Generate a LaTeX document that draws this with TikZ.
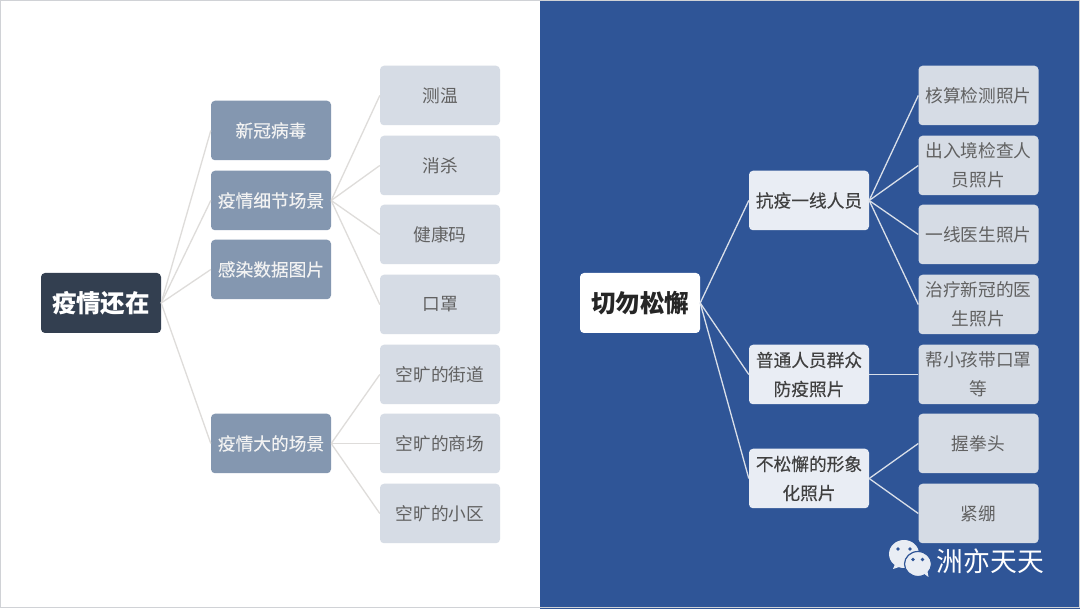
\documentclass[tikz,border=0pt]{standalone}
\usepackage{fontspec}
\setmainfont{Noto Sans CJK SC}
\newfontfamily\medfont[FakeBold=0.25]{Noto Sans CJK SC}
\newcommand{\liftup}[1]{\raisebox{0.8pt}{#1}}
\definecolor{bluebg}{HTML}{2F5597}
\definecolor{rootdark}{HTML}{333F50}
\definecolor{midblue}{HTML}{8497B0}
\definecolor{pale}{HTML}{D6DCE5}
\definecolor{paler}{HTML}{E9EDF4}
\definecolor{linegrey}{HTML}{DEDCDA}
\definecolor{linelight}{HTML}{D9DFE9}
\definecolor{edgegrey}{HTML}{D0D2D6}
\tikzset{
  x=1pt,y=-1pt,
  boxbase/.style={rounded corners=4pt,inner sep=0pt,align=center,anchor=center,minimum width=120pt,minimum height=59.5pt,font=\fontsize{17.7}{29}\selectfont},
  leftroot/.style={boxbase,fill=rootdark,text=white,font=\fontsize{24.5}{29}\selectfont\bfseries,minimum height=60pt},
  leftmid/.style={boxbase,fill=midblue,text=white!95!black,font=\fontsize{17.7}{29}\selectfont\medfont},
  leaf/.style={boxbase,fill=pale,text=black!62},
  rightroot/.style={boxbase,fill=white,text=black!85,font=\fontsize{24.5}{29}\selectfont\bfseries,minimum height=60pt},
  rightmid/.style={boxbase,fill=paler,text=black!75,font=\fontsize{17.7}{29}\selectfont\medfont},
  leftline/.style={draw=linegrey,line width=1.3pt},
  rightline/.style={draw=linelight,line width=1.3pt}
}
\begin{document}
\begin{tikzpicture}
\useasboundingbox (0,0) rectangle (1080,609);
\fill[white] (0,0) rectangle (540,609);
\fill[bluebg] (540,0) rectangle (1080,609);
\draw[edgegrey,line width=1pt] (0.5,0.5) rectangle (1079.5,607.5);
% left tree
\node[leftroot] (L) at (101,303) {\liftup{疫情还在}};
\node[leftmid] (La) at (271,130.5) {\liftup{新冠病毒}};
\node[leftmid] (Lb) at (271,200.5) {\liftup{疫情细节场景}};
\node[leftmid] (Lc) at (271,269.5) {\liftup{感染数据图片}};
\node[leftmid] (Ld) at (271,443.5) {\liftup{疫情大的场景}};
\node[leaf] (L1) at (440,95.5) {\liftup{测温}};
\node[leaf] (L2) at (440,165.5) {\liftup{消杀}};
\node[leaf] (L3) at (440,234.5) {\liftup{健康码}};
\node[leaf] (L4) at (440,304.5) {\liftup{口罩}};
\node[leaf] (L5) at (440,374.5) {\liftup{空旷的街道}};
\node[leaf] (L6) at (440,443.5) {\liftup{空旷的商场}};
\node[leaf] (L7) at (440,513.5) {\liftup{空旷的小区}};
\foreach \a/\b in {L/La,L/Lb,L/Lc,L/Ld,Lb/L1,Lb/L2,Lb/L3,Lb/L4,Ld/L5,Ld/L6,Ld/L7}
  \draw[leftline] (\a.east) -- (\b.west);
% right tree
\node[rightroot] (R) at (640,303) {\liftup{切勿松懈}};
\node[rightmid] (Ra) at (809,200.5) {\liftup{抗疫一线人员}};
\node[rightmid] (Rb) at (809,374.5) {普通人员群众\\防疫照片};
\node[rightmid] (Rc) at (809,478.5) {不松懈的形象\\化照片};
\node[leaf] (R1) at (978.5,95.5) {\liftup{核算检测照片}};
\node[leaf] (R2) at (978.5,165.5) {出入境检查人\\员照片};
\node[leaf] (R3) at (978.5,234.5) {\liftup{一线医生照片}};
\node[leaf] (R4) at (978.5,304.5) {治疗新冠的医\\生照片};
\node[leaf] (R5) at (978.5,374.5) {帮小孩带口罩\\等};
\node[leaf] (R6) at (978.5,443.5) {\liftup{握拳头}};
\node[leaf] (R7) at (978.5,513.5) {\liftup{紧绷}};
\foreach \a/\b in {R/Ra,R/Rb,R/Rc,Ra/R1,Ra/R2,Ra/R3,Ra/R4,Rb/R5,Rc/R6,Rc/R7}
  \draw[rightline] (\a.east) -- (\b.west);
% watermark
\fill[paler] (904,554) ellipse (15pt and 14pt);
\fill[paler] (895,564) -- (893,569) -- (902,566) -- cycle;
\draw[bluebg,line width=1.2pt,fill=paler] (918,564) ellipse (13.5pt and 12.5pt);
\fill[paler] (923,573) -- (928.5,577) -- (927,569) -- cycle;
\fill[bluebg] (898,549) circle (1.8pt) (910,549) circle (1.8pt) (913,559.5) circle (1.8pt) (922.5,559.5) circle (1.8pt);
\node[text=white,font=\fontsize{26.8}{30}\selectfont,inner sep=0pt] (W) at (990.5,561) {洲亦天天};
\end{tikzpicture}
\end{document}
